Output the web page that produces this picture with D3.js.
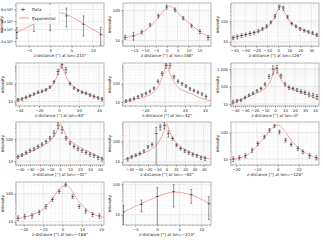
<!DOCTYPE html>
<html>
<head>
<meta charset="utf-8">
<script src="https://cdn.jsdelivr.net/npm/d3@7"></script>
<style>
body { margin: 0; background: #fff; }
text { font-family: "DejaVu Sans", sans-serif; fill: #222; }
</style>
</head>
<body>
<script>
// longitude of every panel, left to right, top to bottom
const lons = [210, 168, 126, 84, 42, 0, -42, -84, -126, -168, -210];

// measured points: z-distance, intensity and error per panel
const zVals = [
    [-7.8, -3.8, 0, 3.8, 7.8, 11.8],
    [-19, -15.2, -11.4, -7.6, -3.8, 0, 3.8, 7.6, 11.4, 15.2, 19],
    [-41, -37.2, -33.4, -29.6, -25.8, -22, -18.2, -14.4, -10.6, -6.8, -3, 0.8, 4.6, 8.4, 12.2, 16, 19.8, 23.6, 27.4, 31.2, 35],
    [-41, -37, -33, -29, -25, -21, -17, -13, -9, -5, -1, 3, 7, 11, 15, 19, 23, 27, 31, 35, 39, 43],
    [-39, -35, -31, -27, -23, -19, -15, -11, -7, -3, 1, 5, 9, 13, 17, 21, 25, 29, 33, 37, 41],
    [-42, -38, -34, -30, -26, -22, -18, -14, -10, -6, -2, 2, 6, 10, 14, 18, 22, 26, 30, 34, 38, 42],
    [-42, -38, -34, -30, -26, -22, -18, -14, -10, -6, -2, 2, 6, 10, 14, 18, 22, 26, 30, 34, 38, 42],
    [-42, -37.6, -33.2, -28.8, -24.4, -20, -15.6, -11.2, -6.8, -2.4, 2, 6.4, 10.8, 15.2, 19.6, 24, 28.4, 32.8, 37.2, 41.6],
    [-21.3, -18.4, -15.5, -12.3, -9.6, -6.4, -4, -1.6, 0.8, 3.7, 6.4, 9.6, 12, 15.2, 18.4],
    [-22.9, -19.5, -15.7, -12, -8.6, -5.2, -1.7, 1.6, 5.2, 8.6, 12, 15.5, 19],
    [-7.7, -3.6, 0, 3.7, 7.7, 11.7]
];
const iVals = [
    [27, 41, 51, 48, 36, 25],
    [12.9, 14.3, 19.4, 33, 66, 129, 105, 55, 31, 20, 12.6],
    [15.6, 17.5, 20.2, 22.6, 25.3, 28.3, 32.8, 42.6, 57, 89.5, 175, 494, 442, 162, 77, 57, 42.6, 35.4, 30.5, 27.3, 21.8],
    [12.5, 13.7, 17, 21, 26.5, 33, 38, 45, 64, 125, 470, 1140, 590, 100, 56, 41, 33, 29, 23, 19.4, 16, 13.7],
    [11.4, 13, 15.5, 19.2, 23.9, 29.6, 38.5, 57, 135, 368, 1000, 1000, 238, 135, 100, 74, 52, 42, 34, 27, 20],
    [13, 14.9, 16.3, 23, 31.6, 41.3, 56, 77, 136, 377, 1000, 1090, 412, 136, 88, 77, 64, 51.6, 45, 36, 31.6, 26.5],
    [15.7, 18.8, 24, 29.5, 35, 45, 57, 75, 107, 181, 404, 257, 107, 64, 45, 35, 29.5, 24, 20, 17.5, 14.2, 12.3],
    [13.5, 17.5, 21, 25.3, 32.8, 53, 69, 235, 494, 595, 235, 135, 64, 44, 34, 27.3, 22.6, 19.5, 15.6, 14.5],
    [10, 11.2, 13.3, 21.7, 38.7, 68.8, 122, 178, 106, 51.6, 35.5, 25.1, 18.8, 13.3, 11.2],
    [13.3, 15.3, 16, 21.7, 34.5, 61, 119, 205, 78, 34.5, 23.7, 17.8, 16],
    [12.3, 21.5, 40, 58, 46, 23]
];
const iErr = [
    [5, 13, 22, 15, 12, 7.5],
    [2, 4, 3, 4, 9, 20, 15, 7, 4, 3, 2],
    [3, 4, 4, 4, 5, 5, 6, 7, 10, 15, 35, 120, 100, 30, 12, 9, 7, 6, 5, 5, 4],
    [2.5, 2.5, 3, 3.5, 4, 5, 6, 7, 10, 20, 150, 400, 200, 20, 9, 6, 5, 5, 4, 4, 3, 3],
    [2, 2.5, 3, 3.5, 4, 5, 6, 9, 25, 80, 300, 300, 50, 25, 18, 12, 9, 7, 6, 5, 4],
    [3, 3, 3, 4, 5, 7, 9, 12, 25, 90, 500, 500, 100, 30, 20, 15, 13, 12, 10, 10, 9, 8],
    [3, 3, 4, 5, 6, 7, 9, 12, 20, 50, 120, 80, 20, 10, 7, 6, 5, 4, 3.5, 3, 2.5, 2.5],
    [2.5, 3, 3.5, 4, 5, 8, 12, 232, 150, 200, 80, 25, 10, 7, 6, 5, 4, 3.5, 3, 3],
    [2, 2, 2.5, 4, 6, 10, 20, 25, 18, 8, 5, 4, 3, 2.5, 2],
    [2.5, 3, 3, 4, 6, 9, 18, 30, 12, 5, 4, 3, 3],
    [8, 9, 38, 40, 22, 16]
];

// fitted exponential curve
const fitZ = [
    [-8, -4, -1, 1, 2.2, 4, 7, 10, 12.6],
    [-20, -15, -10, -5, -2, 0, 1.5, 3, 5, 8, 12, 16, 20.3],
    [-43, -35, -25, -15, -8, -3, 0, 2, 4, 7, 10, 15, 20, 27, 37],
    [-43, -30, -20, -12, -6, -2, 1, 2.5, 4, 7, 11, 16, 25, 35, 45],
    [-42, -30, -20, -10, -5, -1, 1.7, 4, 7, 13, 20, 27, 35, 46],
    [-44, -30, -20, -10, -5, -2, 1, 3, 6, 10, 15, 22, 30, 38, 44],
    [-44, -35, -25, -15, -8, -3, 0.7, 3, 6, 10, 15, 25, 35, 44],
    [-47, -35, -25, -15, -8, -3, 0, 2, 5, 10, 15, 25, 35, 48],
    [-22.4, -18, -14, -10, -6, -3, -0.5, 1.5, 4, 7, 11, 15, 19.7],
    [-24, -20, -15, -10, -6, -3, 0, 2, 4, 7, 10, 14, 18, 21.4],
    [-7.8, -4, 0, 2.5, 4, 6, 9, 12.2]
];
const fitI = [
    [27, 36, 46, 52, 53.5, 50, 39, 30, 24.5],
    [12, 14.5, 21, 45, 85, 125, 140, 120, 85, 52, 30, 18, 12],
    [14, 19, 25, 38, 70, 170, 380, 560, 420, 200, 105, 60, 42, 30, 18],
    [11, 19, 30, 48, 90, 250, 700, 1100, 700, 250, 110, 60, 32, 19, 12],
    [10, 14, 19, 40, 110, 450, 1190, 500, 200, 65, 38, 27, 17, 11],
    [10, 22, 38, 80, 180, 500, 1250, 600, 250, 120, 80, 55, 38, 25, 17],
    [14, 20, 32, 55, 100, 220, 460, 280, 140, 85, 58, 32, 19, 12],
    [12, 18, 26, 45, 100, 300, 700, 450, 200, 90, 55, 30, 20, 13],
    [9.5, 11, 15, 30, 72, 140, 190, 170, 95, 45, 22, 14, 10],
    [12.5, 14, 18, 28, 55, 110, 180, 200, 150, 70, 38, 22, 16, 14],
    [12.3, 22, 40, 52, 56, 52, 38, 22]
];

// axis ranges and ticks per panel
const xDomains = [[-8, 12.6], [-20, 20.3], [-43, 37], [-43, 45], [-42, 46], [-44, 44],
                  [-44, 44], [-47, 48], [-22.4, 19.7], [-24, 21.4], [-7.8, 12.2]];
const yDomains = [[17, 75], [6.6, 175], [6.2, 770], [5.6, 1400], [6, 1350], [7.6, 2200],
                  [6.6, 570], [6.9, 860], [5.9, 251], [7.5, 258], [4.6, 120]];
const xTicks = [
    [-5, 0, 5, 10],
    [-15, -10, -5, 0, 5, 10, 15],
    [-40, -30, -20, -10, 0, 10, 20, 30],
    [-40, -20, 0, 20, 40],
    [-20, 0, 20, 40],
    [-40, -30, -20, -10, 0, 10, 20, 30, 40],
    [-40, -30, -20, -10, 0, 10, 20, 30, 40],
    [-40, -30, -20, -10, 0, 10, 20, 30, 40],
    [-20, -10, 0, 10],
    [-20, -10, 0, 10, 20],
    [-5, 0, 5, 10]
];
const xMinorStep = [1, 1, 2, 5, 5, 2, 2, 2, 2, 2, 1];
const yTicks = [[20, 30, 40, 60], [10, 100], [10, 100], [10, 100], [10, 100], [10, 100, 1000],
                [10, 100], [10, 100], [10, 100], [10, 100], [10, 100]];

const W = 323, H = 240;
const colLeft = [16, 123, 231];
const rowTop = [3, 63, 122, 182];
const plotW = 88, plotH = 43;

const svg = d3.select("body").append("svg")
    .attr("width", W)
    .attr("height", H);

function yLabel(v, i) {
    if (i == 0) {
        // less than one decade: matplotlib style minor labels
        return (v / 10) + "\u00d710\u00b9";
    }
    return d3.format(",")(v);
}

lons.forEach(function(lon, i) {
    var left = colLeft[i % 3];
    var top = rowTop[Math.floor(i / 3)];

    var x = d3.scaleLinear().domain(xDomains[i]).range([0, plotW]);
    var y = d3.scaleLog().domain(yDomains[i]).range([plotH, 0]);

    var g = svg.append("g").attr("transform", "translate(" + left + "," + top + ")");

    g.append("clipPath").attr("id", "clip" + i)
        .append("rect").attr("width", plotW).attr("height", plotH);

    // minor grid
    var xMinor = d3.range(Math.ceil(xDomains[i][0] / xMinorStep[i]) * xMinorStep[i], xDomains[i][1], xMinorStep[i]);
    var yMinor = [];
    for (let e = 0; e < 4; e++) {
        for (let m = 1; m < 10; m++) {
            var v = m * Math.pow(10, e);
            if (v >= yDomains[i][0] && v <= yDomains[i][1]) yMinor.push(v);
        }
    }
    g.selectAll(".xmg").data(xMinor).enter().append("line")
        .attr("x1", d => x(d)).attr("x2", d => x(d))
        .attr("y1", 0).attr("y2", plotH)
        .attr("stroke", "#efefef").attr("stroke-width", 0.4);
    g.selectAll(".ymg").data(yMinor).enter().append("line")
        .attr("x1", 0).attr("x2", plotW)
        .attr("y1", d => y(d)).attr("y2", d => y(d))
        .attr("stroke", "#efefef").attr("stroke-width", 0.4);

    // major grid
    g.selectAll(".xg").data(xTicks[i]).enter().append("line")
        .attr("x1", d => x(d)).attr("x2", d => x(d))
        .attr("y1", 0).attr("y2", plotH)
        .attr("stroke", "#dcdcdc").attr("stroke-width", 0.5);
    g.selectAll(".yg").data(yTicks[i]).enter().append("line")
        .attr("x1", 0).attr("x2", plotW)
        .attr("y1", d => y(d)).attr("y2", d => y(d))
        .attr("stroke", "#dcdcdc").attr("stroke-width", 0.5);

    // axes with major and minor ticks
    g.append("g").attr("transform", "translate(0," + plotH + ")")
        .call(d3.axisBottom(x).tickValues(xTicks[i]).tickSize(2).tickPadding(1).tickFormat(d => d3.format("")(d).replace("-", "\u2212")));
    g.append("g").attr("transform", "translate(0," + plotH + ")")
        .call(d3.axisBottom(x).tickValues(xMinor).tickSize(1).tickFormat(""));
    g.append("g")
        .call(d3.axisLeft(y).tickValues(yTicks[i]).tickSize(2).tickPadding(1).tickFormat(d => yLabel(d, i)));
    g.append("g")
        .call(d3.axisLeft(y).tickValues(yMinor).tickSize(1).tickFormat(""));

    g.selectAll(".domain").remove();
    g.selectAll(".tick line").attr("stroke", "#555").attr("stroke-width", 0.4);
    g.selectAll(".tick text").style("font-size", "3.8px").style("font-family", "DejaVu Sans");

    // frame
    g.append("rect").attr("width", plotW).attr("height", plotH)
        .attr("fill", "none").attr("stroke", "#888").attr("stroke-width", 0.6);

    var plot = g.append("g").attr("clip-path", "url(#clip" + i + ")");

    // fit line
    var pts = fitZ[i].map((z, k) => [z, fitI[i][k]]);
    plot.append("path")
        .attr("d", d3.line().x(d => x(d[0])).y(d => y(d[1])).curve(d3.curveMonotoneX)(pts))
        .attr("fill", "none")
        .attr("stroke", "#f47a7a")
        .attr("stroke-opacity", 0.85)
        .attr("stroke-width", 0.8);

    // data with error bars
    var data = zVals[i].map((z, k) => ({z: z, v: iVals[i][k], e: iErr[i][k]}));
    var lo = d => y(Math.max(d.v - d.e, yDomains[i][0] * 0.5));
    var pt = plot.selectAll(".pt").data(data).enter().append("g");
    pt.append("line")
        .attr("x1", d => x(d.z)).attr("x2", d => x(d.z))
        .attr("y1", d => y(d.v + d.e)).attr("y2", lo)
        .attr("stroke", "#333").attr("stroke-width", 0.5);
    pt.append("line")
        .attr("x1", d => x(d.z) - 1).attr("x2", d => x(d.z) + 1)
        .attr("y1", d => y(d.v + d.e)).attr("y2", d => y(d.v + d.e))
        .attr("stroke", "#333").attr("stroke-width", 0.5);
    pt.append("line")
        .attr("x1", d => x(d.z) - 1).attr("x2", d => x(d.z) + 1)
        .attr("y1", lo).attr("y2", lo)
        .attr("stroke", "#333").attr("stroke-width", 0.5);
    // plus marker
    pt.append("line")
        .attr("x1", d => x(d.z) - 1.3).attr("x2", d => x(d.z) + 1.3)
        .attr("y1", d => y(d.v)).attr("y2", d => y(d.v))
        .attr("stroke", "#111").attr("stroke-width", 0.6);

    // labels
    g.append("text")
        .attr("x", plotW / 2).attr("y", plotH + 10.5)
        .attr("text-anchor", "middle")
        .style("font-size", "4px")
        .text("z-distance [\u00b0] at lon=" + String(lon).replace("-", "\u2212") + "\u00b0");
    g.append("text")
        .attr("transform", "translate(" + (i == 0 ? -13 : -12) + "," + (plotH / 2) + ") rotate(-90)")
        .attr("text-anchor", "middle")
        .style("font-size", "4px")
        .text("intensity");

    // legend only in the first panel
    if (i == 0) {
        var leg = g.append("g");
        leg.append("rect").attr("x", 1).attr("y", 1).attr("width", 42).attr("height", 20)
            .attr("rx", 1).attr("fill", "#fff").attr("fill-opacity", 0.85)
            .attr("stroke", "#ccc").attr("stroke-width", 0.4);
        leg.append("line").attr("x1", 5).attr("x2", 9).attr("y1", 6.5).attr("y2", 6.5)
            .attr("stroke", "#111").attr("stroke-width", 0.6);
        leg.append("line").attr("x1", 7).attr("x2", 7).attr("y1", 4.5).attr("y2", 8.5)
            .attr("stroke", "#333").attr("stroke-width", 0.5);
        leg.append("text").attr("x", 16).attr("y", 8).style("font-size", "4px").text("Data");
        leg.append("line").attr("x1", 3).attr("x2", 13).attr("y1", 15).attr("y2", 15)
            .attr("stroke", "#f47a7a").attr("stroke-width", 0.8);
        leg.append("text").attr("x", 16).attr("y", 16.5).style("font-size", "4px").text("Exponential");
    }
});
</script>
</body>
</html>
